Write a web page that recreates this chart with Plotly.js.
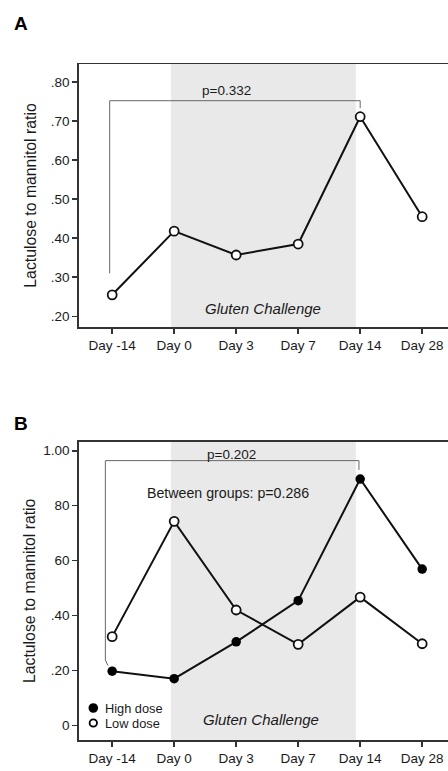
<!DOCTYPE html>
<html>
<head>
<meta charset="utf-8">
<script src="https://cdn.plot.ly/plotly-3.0.1.min.js"></script>
<style>
html,body{margin:0;padding:0;overflow:hidden;background:#fff;}
#chart{width:470px;height:771px;}
</style>
</head>
<body>
<div id="chart"></div>
<script>
// ---- data ----
const days = ['Day -14', 'Day 0', 'Day 3', 'Day 7', 'Day 14', 'Day 28'];
const ratioA = [0.255, 0.418, 0.357, 0.385, 0.711, 0.455];
const highDose = [0.197, 0.170, 0.304, 0.454, 0.897, 0.569];
const lowDose = [0.323, 0.743, 0.420, 0.295, 0.467, 0.297];
const yTickValsA = [0.20, 0.30, 0.40, 0.50, 0.60, 0.70, 0.80];
const yTickTextA = ['.20', '.30', '.40', '.50', '.60', '.70', '.80'];
const yTickValsB = [0, 0.20, 0.40, 0.60, 0.80, 1.00];
const yTickTextB = ['0', '.20', '.40', '60', '80', '1.00'];
const seriesNames = ['High dose', 'Low dose'];
const challengeStart = 'Day 0';
const challengeEnd = 'Day 14';
const pTextA = 'p=0.332';
const pTextB = 'p=0.202';
const betweenText = 'Between groups: p=0.286';
const challengeLabel = 'Gluten Challenge';
const yTitle = 'Lactulose to mannitol ratio';

// ---- styles ----
const FONT = 'Liberation Sans, Arial, sans-serif';
const INK = '#1a1a1a';
const AX = '#333333';
const lineStyle = {color: '#111111', width: 2};
const openMarker = {symbol: 'circle', size: 9, color: '#ffffff', line: {color: '#111111', width: 1.8}};
const filledMarker = {symbol: 'circle', size: 9.5, color: '#000000', line: {color: '#000000', width: 0}};

const W = 470, H = 771;
const xDomain = [78.7 / W, 460 / W];
const idx = d => days.indexOf(d);

const traces = [
  {x: days, y: ratioA, xaxis: 'x', yaxis: 'y', mode: 'lines+markers',
   line: lineStyle, marker: openMarker, showlegend: false, name: 'Ratio'},
  {x: days, y: highDose, xaxis: 'x2', yaxis: 'y2', mode: 'lines+markers',
   line: lineStyle, marker: filledMarker, showlegend: false, name: seriesNames[0]},
  {x: days, y: lowDose, xaxis: 'x2', yaxis: 'y2', mode: 'lines+markers',
   line: lineStyle, marker: openMarker, showlegend: false, name: seriesNames[1]}
];

function xAxis(anchor) {
  return {
    type: 'category', categoryorder: 'array', categoryarray: days,
    range: [-0.54, 5.61], domain: xDomain, anchor: anchor,
    showline: true, linecolor: AX, linewidth: 1.5, mirror: true,
    ticks: 'outside', ticklen: 5, tickwidth: 1.5, tickcolor: AX,
    showgrid: false, zeroline: false, automargin: false,
    tickfont: {family: FONT, size: 13.5, color: INK}
  };
}
function yAxis(anchor, domain, range, vals, text, standoff) {
  return {
    domain: domain, range: range, anchor: anchor,
    tickmode: 'array', tickvals: vals, ticktext: text,
    showline: true, linecolor: AX, linewidth: 1.5,
    ticks: 'outside', ticklen: 5, tickwidth: 1.5, tickcolor: AX,
    showgrid: false, zeroline: false, automargin: false,
    tickfont: {family: FONT, size: 13.5, color: INK},
    title: {text: yTitle, font: {family: FONT, size: 15.8, color: INK}, standoff: standoff}
  };
}

const bracket = {color: '#666666', width: 1};
function seg(xr, yr, x0, y0, x1, y1) {
  return {type: 'line', xref: xr, yref: yr, x0: x0, y0: y0, x1: x1, y1: y1, line: bracket};
}
function shade(xr, yr) {
  return {type: 'rect', xref: xr, yref: yr + ' domain', x0: idx(challengeStart) - 0.05, x1: idx(challengeEnd) - 0.07,
          y0: 0, y1: 1, fillcolor: '#e9e9e9', line: {width: 0}, layer: 'below'};
}
// legend key symbols (pixel-sized circles anchored in paper coordinates)
function keyDot(px, py, r, fill, lw) {
  return {type: 'circle', xref: 'paper', yref: 'paper', xsizemode: 'pixel', ysizemode: 'pixel',
          xanchor: px / W, yanchor: 1 - py / H, x0: -r, x1: r, y0: -r, y1: r,
          fillcolor: fill, line: {color: '#000000', width: lw}};
}

const aL = idx('Day -14') - 0.04, aR = idx('Day 14');
const bL = idx('Day -14') - 0.11, bR = idx('Day 14') - 0.02;

const legX = 93.3, legY0 = 708, legDY = 15;

const shapes = [
  shade('x', 'y'), shade('x2', 'y2'),
  seg('x', 'y', aL, 0.31, aL, 0.752), seg('x', 'y', aL, 0.752, aR, 0.752), seg('x', 'y', aR, 0.752, aR, 0.733),
  seg('x2', 'y2', bL, 0.238, bL, 0.964), seg('x2', 'y2', bL, 0.964, bR, 0.964), seg('x2', 'y2', bR, 0.964, bR, 0.93),
  seg('x2', 'y2', bL, 0.238, bL + 0.04, 0.218),
  keyDot(legX, legY0, 4.8, '#000000', 0),
  keyDot(legX, legY0 + legDY, 3.7, '#ffffff', 1.8)
];

const annotations = [
  {text: '<b>A</b>', xref: 'paper', yref: 'paper', x: 12 / W, y: 1 - 11 / H, xanchor: 'left', yanchor: 'top',
   showarrow: false, font: {family: FONT, size: 19, color: '#000'}},
  {text: '<b>B</b>', xref: 'paper', yref: 'paper', x: 12 / W, y: 1 - 411 / H, xanchor: 'left', yanchor: 'top',
   showarrow: false, font: {family: FONT, size: 19, color: '#000'}},
  {text: pTextA, xref: 'x', yref: 'y', x: 1.85, y: 0.779, showarrow: false,
   font: {family: FONT, size: 13.5, color: INK}},
  {text: challengeLabel, xref: 'x', yref: 'y', x: 2.43, y: 0.22, showarrow: false,
   font: {family: FONT, size: 15, color: INK, style: 'italic'}},
  {text: pTextB, xref: 'x2', yref: 'y2', x: 1.92, y: 0.988, showarrow: false,
   font: {family: FONT, size: 13.5, color: INK}},
  {text: betweenText, xref: 'x2', yref: 'y2', x: 1.86, y: 0.847, showarrow: false,
   font: {family: FONT, size: 14.2, color: INK}},
  {text: challengeLabel, xref: 'x2', yref: 'y2', x: 2.40, y: 0.022, showarrow: false,
   font: {family: FONT, size: 15, color: INK, style: 'italic'}},
  {text: seriesNames[0], xref: 'paper', yref: 'paper', x: 103 / W, y: 1 - legY0 / H, xanchor: 'left', yanchor: 'middle',
   showarrow: false, font: {family: FONT, size: 12.8, color: INK}},
  {text: seriesNames[1], xref: 'paper', yref: 'paper', x: 103 / W, y: 1 - (legY0 + legDY) / H, xanchor: 'left', yanchor: 'middle',
   showarrow: false, font: {family: FONT, size: 12.8, color: INK}}
];

const layout = {
  width: W, height: H,
  margin: {l: 0, r: 0, t: 0, b: 0},
  paper_bgcolor: '#ffffff', plot_bgcolor: 'rgba(0,0,0,0)',
  font: {family: FONT, color: INK},
  xaxis: xAxis('y'),
  yaxis: yAxis('x', [1 - 327 / H, 1 - 64 / H], [0.1726, 0.846], yTickValsA, yTickTextA, 10),
  xaxis2: xAxis('y2'),
  yaxis2: yAxis('x2', [1 - 740 / H, 1 - 441.7 / H], [-0.0535, 1.033], yTickValsB, yTickTextB, 3),
  showlegend: false,
  shapes: shapes,
  annotations: annotations
};

Plotly.newPlot('chart', traces, layout, {displayModeBar: false, staticPlot: true});
</script>
</body>
</html>
